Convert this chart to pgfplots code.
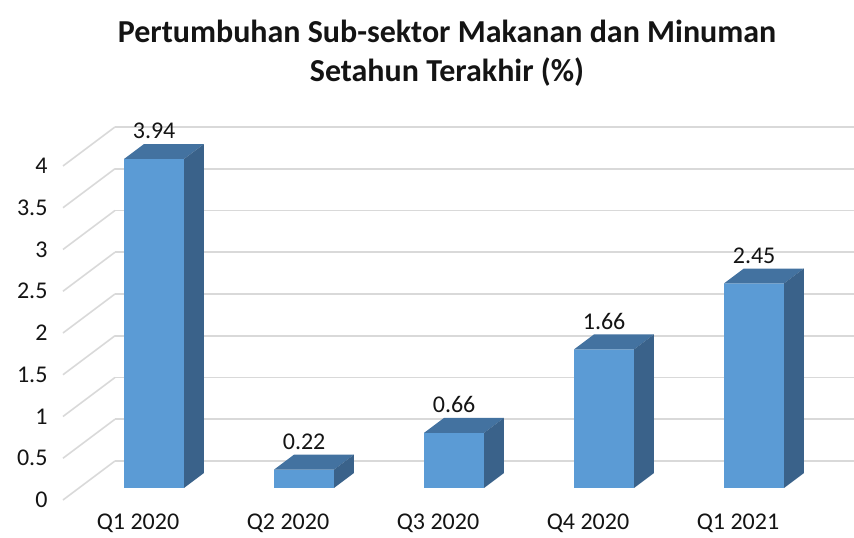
\documentclass[border=0pt]{standalone}
\usepackage{pgfplots}
\pgfplotsset{compat=1.18}
\usepackage{fontspec}
\setmainfont{Carlito}
\definecolor{barfront}{RGB}{91,155,213}
\definecolor{bartop}{RGB}{67,114,160}
\definecolor{barside}{RGB}{58,98,138}
\definecolor{gridc}{RGB}{217,217,217}
\definecolor{txt}{RGB}{20,20,20}
\begin{document}
\begin{tikzpicture}
\useasboundingbox (-138pt,-38pt) rectangle (716pt,500pt);
\begin{axis}[
  disabledatascaling,
  x={(150pt,0pt)}, y={(52pt,39pt)}, z={(0pt,83.5pt)},
  anchor=origin, at={(0pt,0pt)},
  xmin=-0.5, xmax=4.5, ymin=0, ymax=1, zmin=0, zmax=4,
  xtick={0,1,2,3,4},
  xticklabels={Q1 2020,Q2 2020,Q3 2020,Q4 2020,Q1 2021},
  ytick=\empty,
  ztick={0,0.5,1,1.5,2,2.5,3,3.5,4},
  zmajorgrids=true, xmajorgrids=false, ymajorgrids=false,
  major grid style={draw=gridc, line width=1.6pt},
  axis line style={draw=none},
  major tick length=0pt,
  tick label style={font=\fontsize{24}{24}\selectfont, text=txt},
  /pgf/number format/assume math mode=true,
  xticklabel style={anchor=north, yshift=-10pt},
  zticklabel style={anchor=east, xshift=-12pt},
  unbounded coords=jump,
  clip=false,
]
% front faces
\addplot3[fill=barfront, draw=none] coordinates {
 (-0.2,0.31,0) (0.2,0.31,0) (0.2,0.31,3.94) (-0.2,0.31,3.94) (nan,nan,nan)
 (0.8,0.31,0) (1.2,0.31,0) (1.2,0.31,0.22) (0.8,0.31,0.22) (nan,nan,nan)
 (1.8,0.31,0) (2.2,0.31,0) (2.2,0.31,0.66) (1.8,0.31,0.66) (nan,nan,nan)
 (2.8,0.31,0) (3.2,0.31,0) (3.2,0.31,1.66) (2.8,0.31,1.66) (nan,nan,nan)
 (3.8,0.31,0) (4.2,0.31,0) (4.2,0.31,2.45) (3.8,0.31,2.45)
};
% top faces
\addplot3[fill=bartop, draw=none] coordinates {
 (-0.2,0.31,3.94) (0.2,0.31,3.94) (0.2,0.69,3.94) (-0.2,0.69,3.94) (nan,nan,nan)
 (0.8,0.31,0.22) (1.2,0.31,0.22) (1.2,0.69,0.22) (0.8,0.69,0.22) (nan,nan,nan)
 (1.8,0.31,0.66) (2.2,0.31,0.66) (2.2,0.69,0.66) (1.8,0.69,0.66) (nan,nan,nan)
 (2.8,0.31,1.66) (3.2,0.31,1.66) (3.2,0.69,1.66) (2.8,0.69,1.66) (nan,nan,nan)
 (3.8,0.31,2.45) (4.2,0.31,2.45) (4.2,0.69,2.45) (3.8,0.69,2.45)
};
% side faces
\addplot3[fill=barside, draw=none] coordinates {
 (0.2,0.31,0) (0.2,0.69,0) (0.2,0.69,3.94) (0.2,0.31,3.94) (nan,nan,nan)
 (1.2,0.31,0) (1.2,0.69,0) (1.2,0.69,0.22) (1.2,0.31,0.22) (nan,nan,nan)
 (2.2,0.31,0) (2.2,0.69,0) (2.2,0.69,0.66) (2.2,0.31,0.66) (nan,nan,nan)
 (3.2,0.31,0) (3.2,0.69,0) (3.2,0.69,1.66) (3.2,0.31,1.66) (nan,nan,nan)
 (4.2,0.31,0) (4.2,0.69,0) (4.2,0.69,2.45) (4.2,0.31,2.45)
};
% data labels
\addplot3[draw=none, mark=none, point meta=z,
  nodes near coords={\pgfmathprintnumber[fixed,precision=2,fixed zerofill]{\pgfplotspointmeta}},
  nodes near coords style={font=\fontsize{24}{24}\selectfont, text=txt, anchor=center, yshift=28pt}]
 coordinates {(0,0.31,3.94) (1,0.31,0.22) (2,0.31,0.66) (3,0.31,1.66) (4,0.31,2.45)};
\end{axis}
\node[font=\bfseries\fontsize{32}{39}\selectfont, text=txt, align=center] at (309pt,447pt)
 {Pertumbuhan Sub-sektor Makanan dan Minuman\\Setahun Terakhir (\%)};
\end{tikzpicture}
\end{document}
